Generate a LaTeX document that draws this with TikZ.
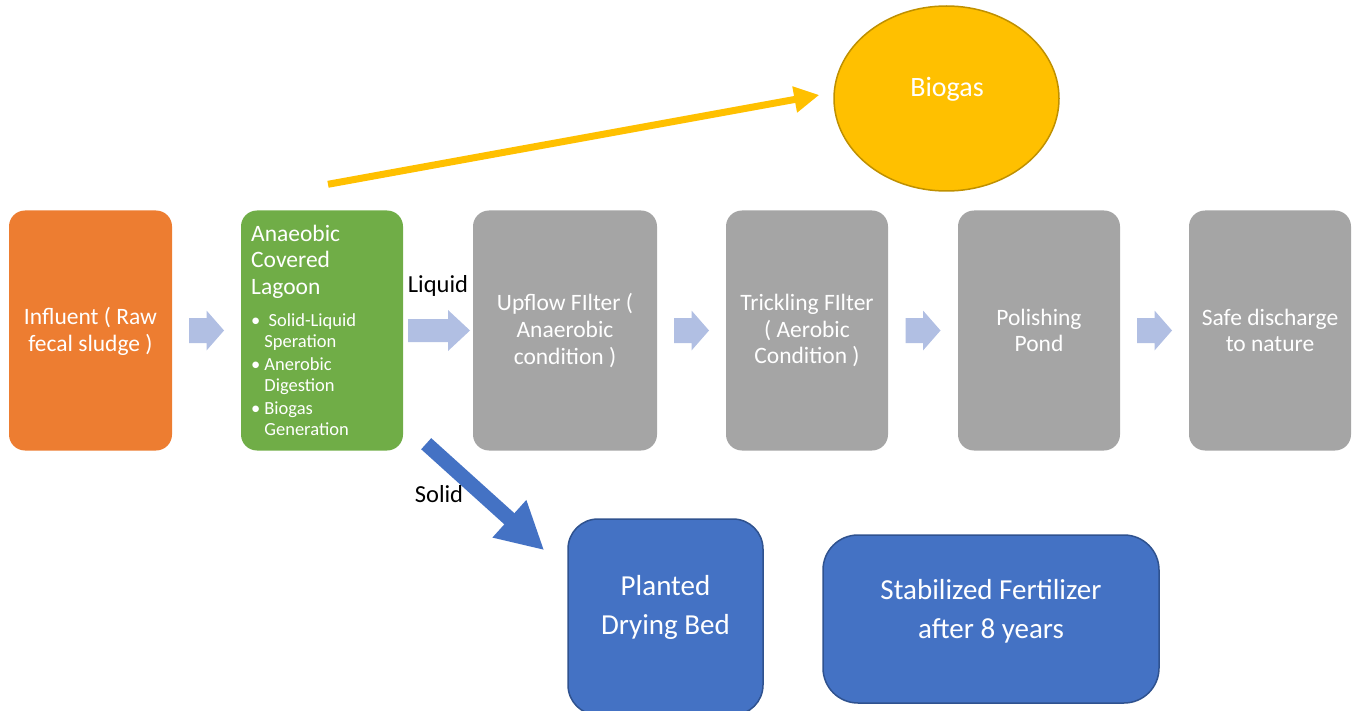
\documentclass[tikz,border=0pt]{standalone}
\usepackage{fontspec}
\setmainfont{Carlito}
\usetikzlibrary{arrows.meta,calc,shapes.geometric}
\definecolor{orng}{HTML}{ED7D31}
\definecolor{grn}{HTML}{70AD47}
\definecolor{gry}{HTML}{A5A5A5}
\definecolor{lblue}{HTML}{B1BFE3}
\definecolor{blu}{HTML}{4472C4}
\definecolor{bluedge}{HTML}{2F528F}
\definecolor{yel}{HTML}{FFC000}
\definecolor{yeledge}{HTML}{BF9000}
\newcommand{\boxfont}{\fontsize{23.5}{26.8}\selectfont}
\newcommand{\bigfont}{\fontsize{29}{39}\selectfont}
\tikzset{
  procbox/.style={rectangle, rounded corners=16pt, minimum height=240pt, inner sep=0pt,
    text=white, font=\boxfont, align=center},
  bluebox/.style={rectangle, draw=bluedge, line width=1.5pt, fill=blu, inner sep=0pt},
  lbl/.style={font=\fontsize{24.5}{28}\selectfont, text=black, inner sep=0pt},
  wtext/.style={text=white, inner sep=0pt, align=center},
}
\newcommand{\smallarrow}[1]{%
  \fill[lblue, shift={(#1)}] (-17.5,-12.5) -- (0,-12.5) -- (0,-20) -- (17.5,0) -- (0,20) -- (0,12.5) -- (-17.5,12.5) -- cycle;}
\begin{document}
\begin{tikzpicture}[x=1pt,y=-1pt]
\useasboundingbox (0,0) rectangle (1357,711);
% process boxes
\node[procbox, fill=orng, minimum width=163pt] (infl) at (90.5,330.5) {};
\node[wtext, font=\boxfont] (infltxt) at (90.5,331.5) {Influent ( Raw\\fecal sludge )};
\node[procbox, fill=grn, minimum width=162pt] (lag) at (322,330.5) {};
\node[procbox, fill=gry, minimum width=184pt] (upf) at (565,330.5) {Upflow FIlter (\\Anaerobic\\condition )};
\node[procbox, fill=gry, minimum width=162pt] (trk) at (807,330.5) {Trickling FIlter\\( Aerobic\\Condition )};
\node[procbox, fill=gry, minimum width=162pt] (pol) at (1039,330.5) {Polishing\\Pond};
\node[procbox, fill=gry, minimum width=162pt] (safe) at (1270,330.5) {Safe discharge\\to nature};
% lagoon text
\node[anchor=north west, inner sep=0pt, text=white, align=left, font=\boxfont] (lagtitle) at (251,224.5) {Anaeobic\\Covered\\Lagoon};
\node[anchor=north west, inner sep=0pt, text=white, font=\fontsize{18.5}{21.2}\selectfont] (lagbul) at (251,311) {%
  \begin{tabular}{@{}l@{\hspace{4pt}}l@{}}
  \textbullet & \ Solid-Liquid\\
  & Speration\\[1.6pt]
  \textbullet & Anerobic\\
  & Digestion\\[1.6pt]
  \textbullet & Biogas\\
  & Generation
  \end{tabular}};
% block arrows between boxes
\path ($(infl.east)!0.5!(lag.west)$) coordinate (a1);
\path ($(upf.east)!0.5!(trk.west)$) coordinate (a2);
\path ($(trk.east)!0.5!(pol.west)$) coordinate (a3);
\path ($(pol.east)!0.5!(safe.west)$) coordinate (a4);
\smallarrow{a1}
\smallarrow{a2}
\smallarrow{a3}
\smallarrow{a4}
\path ($(lag.east)!0.5!(upf.west)+(1,0)$) coordinate (a5);
\fill[lblue, shift={(a5)}] (-31,-11.5) -- (9,-11.5) -- (9,-20.5) -- (31,0) -- (9,20.5) -- (9,11.5) -- (-31,11.5) -- cycle;
\node[lbl] (liq) at (438,286) {Liquid};
% biogas
\node[ellipse, draw=yeledge, line width=1.5pt, fill=yel, minimum width=225pt, minimum height=185pt, inner sep=0pt] (bio) at (946.5,98.5) {};
\node[wtext, font=\fontsize{28}{32}\selectfont] (biotxt) at (947,89) {Biogas};
\coordinate (ys) at ($(lag.north)+(6,-26)$);
\draw[yel, line width=7pt, -{Triangle[length=25pt,width=25pt]}] (ys) -- ($(bio.west)+(-14,-3.5)$);
% solid branch
\node[bluebox, rounded corners=30pt, minimum width=195pt, minimum height=196pt] (pdb) at (665.5,617) {};
\node[wtext, font=\bigfont] (pdbtxt) at (665.5,607) {Planted\\Drying Bed};
\node[bluebox, rounded corners=35pt, minimum width=336pt, minimum height=168pt] (fert) at (991,619) {};
\node[wtext, font=\bigfont] (ferttxt) at (991,611) {Stabilized Fertilizer\\after 8 years};
\coordinate (ss) at ($(lag.south east)+(23,-7)$);
\draw[blu, line width=15pt, -{Triangle[length=47pt,width=47pt]}] (ss) -- ($(pdb.north west)+(-23,32)$);
\node[lbl] (sol) at (439,494) {Solid};
\end{tikzpicture}
\end{document}
